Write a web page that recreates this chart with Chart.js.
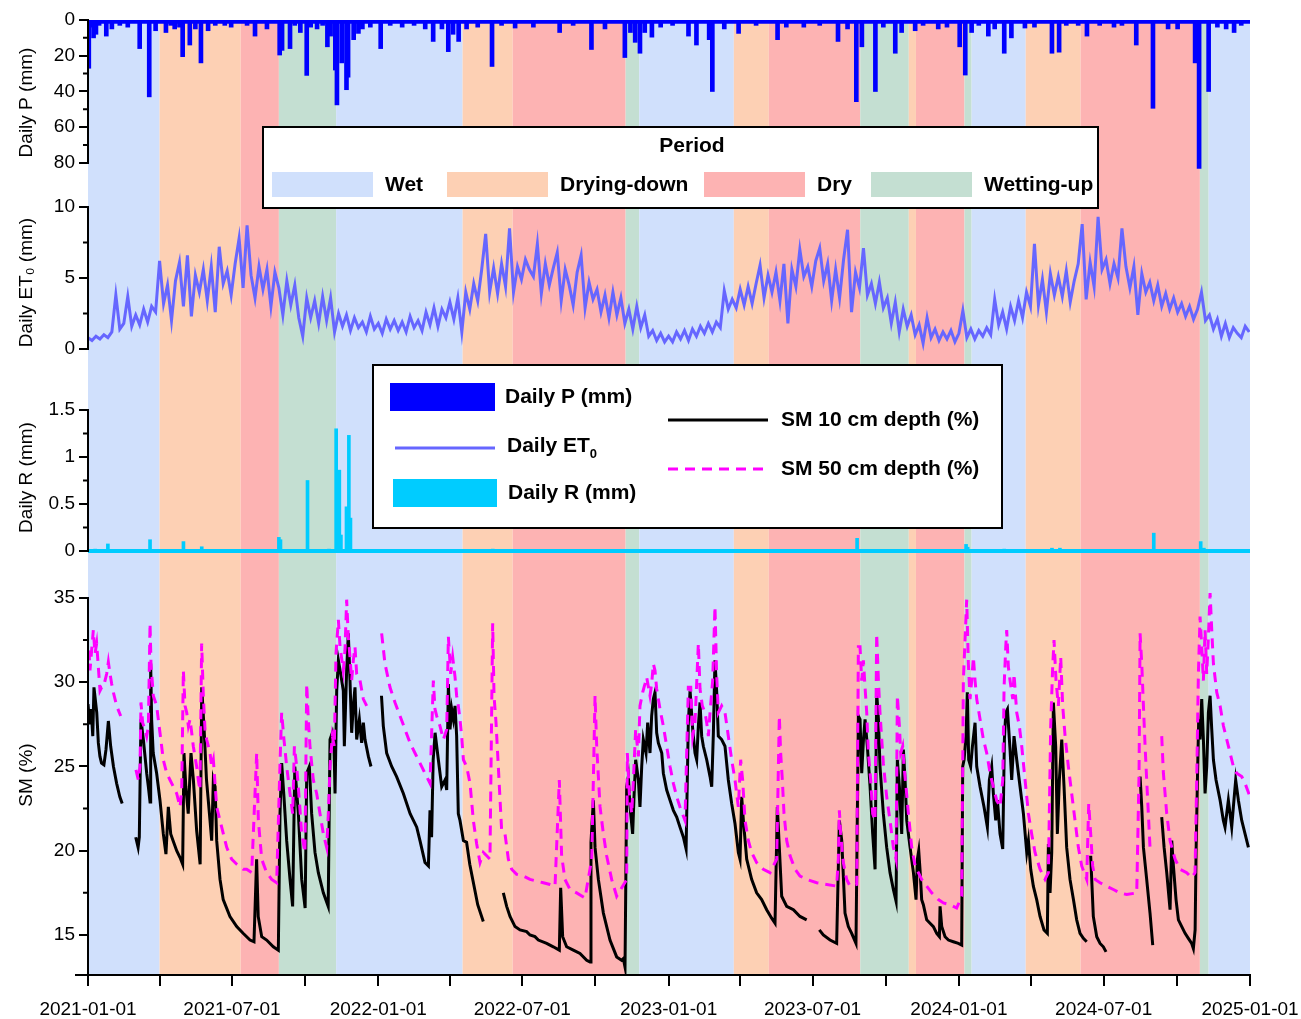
<!DOCTYPE html>
<html>
<head>
<meta charset="utf-8">
<script src="https://cdn.jsdelivr.net/npm/chart.js@4.4.1/dist/chart.umd.min.js"></script>
<style>
  html, body { margin: 0; padding: 0; background: #fff; }
  #wrap { width: 1301px; height: 1019px; }
</style>
</head>
<body>
<div id="wrap"><canvas id="chart"></canvas></div>
<script>
// all x values are days since 2021-01-01
const START = Date.UTC(2021, 0, 1);
const toDay = s => Math.round((Date.parse(s) - START) / 86400000);
const fromDay = d => new Date(START + d * 86400000).toISOString().slice(0, 10);
const END = '2025-01-01';

// x axis ticks (quarterly) and the ones that get a label
const xTickDates = ['2021-01-01','2021-04-01','2021-07-01','2021-10-01','2022-01-01','2022-04-01','2022-07-01','2022-10-01',
  '2023-01-01','2023-04-01','2023-07-01','2023-10-01','2024-01-01','2024-04-01','2024-07-01','2024-10-01','2025-01-01'];
const xLabelDates = ['2021-01-01','2021-07-01','2022-01-01','2022-07-01','2023-01-01','2023-07-01','2024-01-01','2024-07-01','2025-01-01'];

// y tick values per panel
const pTicks = [0, 20, 40, 60, 80];
const etTicks = [0, 5, 10];
const rTicks = [0, 0.5, 1, 1.5];
const smTicks = [15, 20, 25, 30, 35];

// period shading
const periodNames = ['Wet', 'Drying-down', 'Dry', 'Wetting-up'];
const periodColors = ['#d0e0fc', '#fdd0b4', '#fdb3b3', '#c4dfd2'];
const bandStart = ['2021-01-01','2021-04-01','2021-07-12','2021-08-29','2021-11-09','2022-04-17','2022-06-19','2022-11-08',
  '2022-11-25','2023-03-24','2023-05-07','2023-08-30','2023-10-30','2023-11-08','2024-01-08','2024-01-17',
  '2024-03-25','2024-06-02','2024-10-30','2024-11-10'];
const bandPeriod = [0,1,2,3,0,1,2,3,0,1,2,3,1,2,3,0,1,2,3,0];

// daily precipitation events (mm)
const pDays = [1,7,10,23,65,77,98,109,119,128,142,151,172,210,241,244,254,267,275,288,
  301,305,311,313,319,325,327,334,340,368,424,434,453,459,466,476,508,537,593,633,
  675,682,688,694,700,709,755,765,781,785,818,867,878,943,966,973,990,1015,1023,1040,
  1069,1096,1103,1111,1132,1152,1161,1178,1212,1221,1245,1256,1272,1318,1339,1358,1392,1397,1409,1431,1441,
  // smaller showers
  3,14,30,40,50,85,104,115,135,160,180,200,225,260,280,295,345,355,380,395,410,445,490,520,560,610,650,
  720,735,800,840,900,920,955,1000,1050,1080,1120,1140,1190,1230,1290,1300,1370,1420,1450];
const pVals = [27,10,8,9,16,43,7,5,20.5,14,24,6,3,9,19.6,17,16,7,31,5,
  15,9,28,47.5,24,39,32,11,7.5,16,5,12,17.7,8,12,5,26,4.5,7,16.5,
  21,7,12.5,18.6,7,9.6,9,14,11,40,7.5,11,4,12,45.7,15,40,18.6,7,6,
  5,15,30.8,7,9,18.6,10,4.5,18.6,18,3,9,3,14,49.4,5,24,83,40,5,7,
  4,3,5,3,4,6,3,4,5,3,4,3,5,3,4,3,5,4,3,4,3,5,4,3,4,3,5,
  4,3,5,3,4,3,5,4,3,4,3,5,4,3,4,3,5,4,3];
const pDrizzle = 1; // near-daily light rain along the top edge

// daily ET0 (mm), one reading every 5 days
const et0Step = 5;
const et0Vals = [
  0.8,0.6,0.9,0.7,1.0,0.8, 1.2,3.8,1.4,1.8,3.7,1.6, 2.4,1.7,2.8,1.9,3.0,2.6, 6.2,3.2,4.5,2.0,4.8,6.1,
  3.0,6.6,2.3,5.2,4.0,5.6, 3.4,5.8,2.6,7.2,4.6,5.5, 3.8,6.0,7.8,4.3,8.7,5.2, 3.6,5.8,4.2,5.6,3.0,5.4,
  4.3,2.4,4.8,3.1,4.5,2.2, 0.9,3.6,2.2,3.4,1.8,3.7, 2.0,3.6,1.2,2.5,1.6,2.4, 1.3,2.2,1.5,1.9,1.2,2.3,1.4,
  1.8,1.1,2.1,1.4,2.0,1.3, 1.9,1.2,2.3,1.5,2.0,1.3, 2.6,1.7,2.9,1.6,2.8,2.2, 3.3,2.1,3.6,1.2,4.0,2.8,
  4.6,3.4,5.6,8.1,4.0,5.7, 3.9,6.0,4.4,8.5,4.0,5.8, 4.9,6.3,5.6,5.1,7.4,3.9, 6.0,4.5,5.7,6.8,3.4,5.6,
  4.5,3.1,5.4,6.6,2.9,4.7, 3.5,4.2,2.6,3.8,2.2,4.0, 2.4,3.6,1.8,2.8,1.4,3.0, 1.5,2.4,0.9,1.3,0.6,1.1,0.5,
  0.9,0.5,1.2,0.7,1.3,0.6, 1.4,0.9,1.6,1.1,1.8,1.2, 1.9,1.5,4.1, 2.8,3.5,2.9,4.2,3.1,4.4,
  3.2,4.6,5.9,3.6,5.2,4.0, 5.4,3.4,6.0,1.8,5.6,4.4, 7.0,5.1,5.8,4.4,6.2,7.1, 4.8,6.0,3.4,5.6,3.6,6.3,
  8.4,2.6,5.4,4.3,7.1,3.8, 4.6,3.2,4.7,2.9,3.6,1.8, 3.3,1.2,2.8,1.6,2.4,1.0, 1.7,0.4,2.2,0.8,1.4,0.6, 1.2,0.7,1.3,0.5,1.1,
  2.7,0.8,1.4,0.7,1.3,0.9, 1.5,1.0,3.5,1.7,2.6,1.4, 3.0,2.0,3.4,2.2,4.0,3.0, 7.4,3.1,4.9,2.6,5.3,3.8,
  5.1,3.7,5.5,3.3,4.8,6.0, 8.8,3.5,6.1,4.4,9.3,5.6, 6.3,4.6,6.0,5.0,8.5,5.8, 4.3,5.8,2.4,5.3,4.0,4.7,
  3.4,4.5,3.0,3.9,2.8,3.6, 2.6,3.2,2.3,3.0,2.1,2.8, 4.0,2.0,2.4,1.4,2.1,0.9, 1.8,0.8,1.5,1.1,0.8,1.6,1.2
];

// daily runoff (mm)
const rDays = [9,25,78,120,143,240,242,276,303,312,316,318,325,328,330,509,967,1104,1106,1152,1212,1222,1340,1399,1403];
const rVals = [0.02,0.075,0.12,0.1,0.045,0.145,0.12,0.75,0.02,1.3,0.86,0.17,0.47,1.23,0.35,0.02,0.135,0.07,0.04,0.02,0.03,0.03,0.19,0.1,0.03];

// soil moisture [day, %], null = missing record
const sm10Pts = [
  [0,28.7],[2,27.5],[4,28.4],[6,26.8],[7.5,29.7],[11,28.2],[13,26.4],[15,25.6],[17,25.2],[20,25.1],[22.6,26.0],[25.6,27.7],[28.5,26.2],[32,25.0],[36,24.0],[40,23.2],[43,22.8],
  null,
  [60,20.8],[63,20.2],[64.5,20.8],[66.6,27.8],[69.6,26.6],[71.7,25.6],[73.8,24.6],[75.9,23.8],[78,22.9],[78.8,31.1],[80,27.8],[82,25.8],[86.3,24.6],[90.5,23.0],[94.7,21.0],[98,19.8],
  [101,22.6],[104,21.0],[107,20.6],[111.5,20.0],[115.7,19.6],[119,19.2],[120.7,25.8],[123,23.8],[126,22.2],[129.5,25.8],[132.5,24.2],[136.6,21.2],[141,19.2],[143,29.7],[146,27.2],
  [149,24.2],[153.4,21.8],[155.5,20.6],[157.6,24.2],[159.8,23.8],[161.8,20.6],[166,18.3],[170,17.1],[178.5,16.1],[187,15.5],[195,15.1],[203.7,14.7],[208.7,14.6],[212,19.5],[214,16.1],
  [218.4,14.9],[224.6,14.7],[233,14.3],[239.3,14.1],[241.4,22.2],[243.5,25.2],[246.4,23.2],[249.8,20.6],[254,18.3],[257.3,16.7],[260,25.0],[264.5,22.2],[268.7,18.3],[273,16.6],
  [275,24.6],[278.3,25.0],[281.2,22.2],[285.4,19.9],[289.6,18.7],[295.9,17.5],[302,16.7],[304.3,26.6],[307.2,27.0],[309.3,26.2],[310.6,23.4],[312.7,29.5],[314.8,31.3],[317.7,30.5],
  [321,29.5],[322.3,26.2],[325.2,30.7],[327.3,32.9],[329.4,30.1],[331.5,27.0],[333.6,28.6],[335.7,29.7],[337.8,26.6],[341.2,27.8],[344.1,26.4],[346.2,27.6],[348.3,26.6],[352.5,25.6],[355.8,25.0],
  null,
  [369,29.2],[371.3,27.4],[375.5,25.8],[381.8,25.0],[388,24.4],[396.5,23.4],[405,22.2],[413.3,21.4],[417.4,20.6],[423.7,19.3],[428,19.1],[430,22.4],[432,20.8],[434,25.4],[436.4,27.0],
  [440.5,25.4],[444.7,23.8],[448.9,24.2],[451,23.6],[453.1,29.9],[455.2,27.2],[457.3,28.4],[459.4,27.8],[461.5,28.6],[463.5,26.8],[465.6,22.2],[467.7,21.8],[472,20.6],[476,20.5],
  [480,19.2],[485,18.0],[490,16.8],[497,15.8],
  null,
  [522.2,17.5],[526.4,16.7],[530.6,16.1],[536.9,15.5],[543.2,15.3],[551.5,15.2],[555.7,15.0],[562,14.9],[566.2,14.7],[576.7,14.5],[585,14.3],[592.6,14.1],[594.3,17.8],[596.8,14.9],
  [601.8,14.3],[610.2,14.1],[618.6,13.9],[627,13.5],[631.2,13.4],[632.4,20.5],[635.4,23.0],[637.5,20.2],[641.7,18.3],[648,16.3],[656.3,14.7],[664.7,13.7],[671,13.5],[673.1,13.6],
  [675.2,13.1],[677.3,23.8],[679.4,24.4],[681.5,22.6],[684.8,21.0],[686.5,23.2],[688.6,25.4],[692,24.2],[694,22.6],[696.2,25.0],[698.2,26.6],[701.6,25.8],[703.7,27.6],[706.6,25.8],
  [708.7,28.0],[710.8,29.0],[712.9,29.4],[715,27.0],[717.1,26.4],[721.4,25.8],[723.4,24.6],[727.6,23.6],[731.8,23.0],[736,22.4],[740.2,22.0],[744.3,21.4],[748.6,20.8],[752,20.1],
  [754.8,27.6],[757,29.5],[760.3,27.2],[763.2,25.8],[765.3,25.4],[767.4,27.4],[769.5,28.8],[771.6,26.8],[773.7,26.2],[777.9,25.4],[782.1,24.4],[784.2,23.8],[786.3,27.0],[788.3,31.3],
  [790.4,29.5],[792.5,26.8],[796.7,26.6],[800.9,26.2],[805.1,24.2],[809.3,22.8],[813.5,21.6],[817.7,19.9],[819.8,19.5],[821.9,23.2],[824,21.8],[828.2,19.5],[834.4,18.3],[840.7,17.5],
  [847,17.1],[853.3,16.5],[859.6,16.0],[863.8,15.7],[866.7,22.6],[869.2,20.2],[872.2,17.3],[878.5,16.7],[886.9,16.5],[895.2,16.1],[903.6,15.9],
  null,
  [919.5,15.3],[924.5,15.0],[933,14.7],[941.3,14.5],[944.7,21.8],[947.7,20.6],[951.8,16.3],[956,15.5],[960.2,15.1],[965.6,14.5],[968.6,28.0],[970.7,27.8],[972.8,24.6],[975,26.6],
  [977,27.8],[979.9,26.2],[983.3,23.8],[986.6,21.0],[989.6,18.9],[991.6,29.4],[993.8,27.8],[995.8,25.0],[1000,22.2],[1004.2,20.2],[1008.4,18.7],[1012.6,17.7],[1016,17.0],[1017.6,25.4],
  [1020.2,23.8],[1023.1,21.0],[1025.2,26.0],[1027.3,24.2],[1029.4,21.8],[1033.6,20.2],[1037.8,18.7],[1041.1,17.1],[1042.8,19.5],[1044.5,20.0],[1046.1,18.9],[1048.2,17.1],[1050.3,16.8],
  [1054.5,15.9],[1058.7,15.7],[1062.9,15.5],[1067.1,15.1],[1070.5,14.9],[1071.3,16.7],[1073.4,15.5],[1077.6,14.9],[1081.8,14.7],[1088,14.6],[1094.3,14.5],[1098.5,14.4],[1099.8,25.0],
  [1101.5,25.4],[1104,26.8],[1105.6,29.4],[1107.3,25.4],[1109.8,25.0],[1112,26.2],[1115.3,27.6],[1117.4,25.0],[1121.6,23.8],[1126.6,22.6],[1130.8,21.4],[1133.3,24.2],[1136.2,25.0],
  [1138.3,23.4],[1141.3,21.8],[1143.4,23.0],[1146.7,21.0],[1150.1,20.1],[1152.2,26.6],[1153.9,28.2],[1156,28.4],[1159.3,26.0],[1161.4,24.2],[1164.3,26.8],[1167.7,25.4],[1171.9,23.8],
  [1176.1,22.2],[1180.3,19.9],[1182.4,20.6],[1185.3,18.9],[1188.6,17.9],[1192.8,17.1],[1197,16.1],[1202,15.3],[1206.2,15.1],[1207.5,20.4],[1209.6,17.5],[1211.7,19.9],[1213.8,28.8],
  [1216.7,26.2],[1218.8,21.0],[1221.3,24.2],[1224.3,26.6],[1227.2,23.8],[1230.5,20.2],[1234.7,18.3],[1239,17.1],[1243.1,15.9],[1247.3,15.1],[1251.5,14.8],[1255.7,14.6],
  null,
  [1260.7,19.7],[1264,16.1],[1268.3,14.9],[1272.5,14.5],[1276.6,14.3],[1280,14.0],
  null,
  [1322.8,24.4],[1324.9,22.6],[1327,20.2],[1331.1,18.3],[1335.3,16.3],[1338.7,14.4],
  null,
  [1350,22.0],[1353,20.2],[1356.3,18.7],[1360.5,16.5],[1362.6,20.6],[1364.7,19.1],[1368,17.1],[1371,15.9],[1375.2,15.5],[1379.4,15.1],[1383.5,14.8],[1387.7,14.5],[1389.8,14.2],
  [1392,15.3],[1393.2,19.9],[1394.9,24.2],[1396.5,27.8],[1398.2,26.6],[1400.3,29.0],[1402.4,26.6],[1404.5,23.4],[1406.6,25.0],[1408.7,28.2],[1410.8,29.2],[1412.9,27.2],[1415,25.4],
  [1418.3,24.2],[1423.4,23.0],[1427.5,21.8],[1429.6,21.4],[1431.7,22.2],[1433.8,23.0],[1435.9,22.2],[1438,21.4],[1440.1,22.6],[1443,24.2],[1446.4,23.0],[1450.6,21.8],[1454.8,21.0],[1459,20.2]
];
const sm50Pts = [
  [0,31.3],[1,32.1],[2.5,30.7],[4.6,31.9],[6.7,33.1],[8.8,31.7],[10.9,32.3],[13,30.9],[15.1,29.5],[17.2,29.7],[19.3,29.7],[21.4,30.1],[23.5,30.5],[25.6,31.2],[27.7,30.5],[29.8,29.9],
  [31.9,29.4],[36,28.6],[41.1,28.0],
  null,
  [60.3,24.8],[63.3,24.2],[65.4,25.0],[66.6,28.8],[68.7,27.6],[71.7,27.2],[73.8,26.8],[75.9,27.4],[78,33.5],[79.2,31.1],[82.1,29.2],[86.3,28.6],[90.5,27.0],[94.7,25.4],[98.9,24.6],
  [103.1,24.2],[107.3,23.8],[111.5,23.4],[115.7,22.6],[117.8,23.6],[119.9,30.7],[122,28.6],[124.1,28.2],[126.2,27.4],[128.3,27.8],[130.4,27.0],[132.4,26.2],[136.6,25.0],[138.7,24.2],
  [140.8,23.6],[142.9,32.3],[145,29.2],[147.1,27.2],[149.2,26.6],[153.4,25.8],[155.5,25.0],[157.6,25.4],[161.8,22.6],[166,21.8],[170.2,21.0],[174.4,20.2],[180.6,19.5],[187,19.2],
  [195.3,18.9],[199.5,18.9],[205.8,18.7],[212.1,25.8],[214.2,21.8],[218.4,19.5],[224.6,18.7],[231,18.3],[237.2,18.1],[241.4,25.2],[243.5,28.2],[246.4,26.6],[249.8,25.0],[254,23.4],
  [257.3,22.2],[259.5,26.2],[262.4,25.0],[265.7,23.0],[268.7,21.0],[272.8,19.9],[275,29.9],[277,27.8],[279.1,26.2],[283.3,24.2],[287.5,23.4],[291.7,22.2],[295.9,21.0],[300.1,20.2],
  [302.2,22.2],[304.3,25.0],[307.2,26.8],[309.7,26.2],[311.8,31.7],[314.8,33.7],[316.9,32.1],[321,30.7],[323.1,31.9],[325.2,34.9],[327.3,32.7],[329.4,31.5],[331.5,30.1],[333.6,31.3],
  [335.7,32.1],[337.8,30.5],[342,30.1],[346.2,29.0],[350.4,28.6],
  null,
  [369.2,32.9],[373.4,31.1],[379.7,29.7],[386,28.8],[392.3,28.0],[398.6,27.2],[404.9,26.4],[411.1,25.8],[417.4,25.2],[423.7,24.6],[430,24.0],[434.2,30.1],[436.3,28.4],[438.4,28.0],
  [442.6,27.4],[446.8,26.6],[451,27.2],[453.1,32.7],[456,30.5],[458.5,31.5],[461.5,30.3],[463.5,29.2],[465.6,28.6],[467.7,27.8],[469.8,26.8],[472,25.4],[476.1,25.0],[480.3,24.0],
  [484.5,21.8],[488.7,20.4],[492.9,19.3],[497.1,19.9],[501.3,19.7],[505.4,19.5],[508.8,33.5],[510.5,29.2],[513,27.6],[515.9,25.0],[520.1,21.2],[524.3,21.0],[528.5,19.5],[532.7,18.9],
  [539,18.6],[547.4,18.5],[555.7,18.3],[564.1,18.2],[572.5,18.1],[580.9,18.0],[587.2,17.9],[592.6,24.2],[595.5,19.7],[599.7,18.3],[606,17.7],[614.4,17.5],[624.9,17.2],[633.3,19.5],
  [635.4,24.2],[637.5,29.2],[639.6,26.2],[643.8,22.6],[648,21.0],[652.1,19.7],[658.4,18.3],[664.7,17.3],[677.3,18.3],[678.1,25.8],[680.6,23.4],[683.6,22.2],[685.7,24.2],[688.6,27.2],
  [692,25.6],[694,28.6],[697.4,29.4],[700.3,29.9],[702.4,30.3],[706.6,29.2],[708.7,29.9],[710.8,31.1],[712.9,30.7],[715,29.6],[719.2,28.4],[723.4,27.4],[727.6,26.2],[731.8,25.0],
  [736,24.0],[740.2,23.2],[744.3,22.6],[750.6,21.8],[754.8,29.7],[757.8,29.7],[760.3,26.8],[763.2,27.6],[767.4,32.3],[769.5,29.6],[772.4,28.6],[775.8,28.2],[777.9,27.6],[780,26.8],
  [782.1,28.2],[785.4,30.1],[788.3,34.5],[790.4,30.5],[792.5,28.2],[796.7,28.6],[800.9,28.2],[805.1,26.8],[809.3,25.4],[813.5,24.2],[817.7,22.6],[820.6,25.4],[823.1,24.2],[826.1,21.8],
  [830.3,20.6],[834.4,19.9],[840.7,19.3],[849.1,18.9],[857.5,18.7],[865.9,19.5],[869.2,28.0],[870.9,25.8],[873,24.2],[875.1,22.2],[878.5,20.6],[882.7,19.7],[889,18.9],[895.2,18.5],
  [903.6,18.3],[916.2,18.1],[928.8,18.0],[941.3,17.9],[943.4,19.5],[944.7,22.4],[946.3,21.0],[949.7,19.3],[953.9,18.3],[958.1,17.9],[966.5,18.0],[968.6,32.1],[970.7,32.1],[972.8,30.1],
  [974.9,31.3],[977,29.7],[979.1,28.2],[981.2,25.8],[984.1,24.2],[986.6,22.2],[989.6,21.8],[991.6,32.9],[993.8,30.1],[995.8,28.2],[998,26.6],[1000,25.2],[1004.2,23.2],[1008.4,21.8],
  [1012.6,20.2],[1016,19.5],[1017.6,29.2],[1020.2,27.4],[1021.8,25.8],[1024.3,26.2],[1026,25.0],[1028.5,23.8],[1031.5,22.2],[1035.7,20.2],[1039.9,19.1],[1044.1,18.7],[1048.2,18.3],
  [1054.5,17.9],[1060.8,17.5],[1069.2,17.1],[1075.5,16.9],[1083.9,16.8],[1092.2,16.6],[1098.5,17.3],[1100.6,30.1],[1102.7,32.5],[1104.8,34.9],[1106.9,31.1],[1109,29.0],[1111.1,30.1],
  [1113.2,31.5],[1115.3,30.1],[1117.4,29.0],[1121.6,27.8],[1125.8,26.6],[1130,25.8],[1134.2,24.6],[1138.3,23.8],[1142.5,23.0],[1146.7,22.6],[1150.1,24.2],[1151.8,29.7],[1153.9,32.1],
  [1155.1,33.1],[1157.2,30.9],[1159.3,30.1],[1162.7,29.0],[1164.3,30.5],[1167.7,28.2],[1171,27.4],[1174,26.2],[1178.2,24.2],[1182.4,22.2],[1186.5,21.0],[1190.7,19.9],[1197,18.9],
  [1203.3,18.3],[1207.5,18.7],[1210.4,27.4],[1212.9,30.9],[1214.6,32.5],[1217.1,30.1],[1220.1,28.6],[1223,31.5],[1225.5,28.6],[1228.5,26.8],[1232.6,25.0],[1236.8,23.4],[1241,21.8],
  [1245.2,20.2],[1249.4,19.1],[1255.7,18.3],[1258.2,22.8],[1260.7,21.0],[1263.2,19.1],[1266.2,18.3],[1272.5,18.1],[1280.8,17.9],[1289.2,17.7],[1297.6,17.5],[1306,17.4],[1318.6,17.5],
  [1321.5,24.6],[1322.8,32.9],[1324.9,31.1],[1327,28.6],[1329.1,26.2],[1331.1,24.2],[1333.2,22.2],[1335.3,20.2],
  null,
  [1350,26.8],[1352.1,24.6],[1356.3,22.2],[1360.5,20.6],[1366.8,19.5],[1373.1,18.9],[1381.4,18.7],[1387.7,18.4],[1391.9,18.7],[1394,24.2],[1396.1,30.5],[1398.2,33.9],[1400.3,32.1],
  [1402.4,30.1],[1404.5,33.1],[1406.6,30.5],[1408.7,32.7],[1410.8,35.3],[1412.9,33.1],[1415,31.1],[1419.2,29.4],[1423.4,28.6],[1427.6,27.4],[1431.8,26.6],[1436,25.8],[1440.1,25.0],
  [1444.3,24.6],[1450.6,24.4],[1454.8,24.0],[1461,23.2]
];

const FONT = '"Liberation Sans", Arial, Helvetica, sans-serif';
Chart.defaults.font.family = FONT;
Chart.defaults.color = '#000';

const toXY = pts => {
  const out = [];
  pts.forEach((p, i) => {
    if (p) out.push({ x: p[0], y: p[1] });
    else out.push({ x: pts[i - 1][0] + 0.1, y: null });
  });
  return out;
};

// background bands
const bandPlugin = {
  id: 'bands',
  beforeDraw(chart) {
    const { ctx, chartArea: a, scales: { x } } = chart;
    ctx.save();
    bandStart.forEach((s, i) => {
      const x0 = x.getPixelForValue(toDay(s));
      const x1 = x.getPixelForValue(toDay(bandStart[i + 1] || END));
      ctx.fillStyle = periodColors[bandPeriod[i]];
      ctx.fillRect(x0, a.top, x1 - x0, a.bottom - a.top);
    });
    ctx.restore();
  }
};

// left axis line segments + minor ticks, then the two legend boxes
const axisPlugin = {
  id: 'axisSegments',
  afterDraw(chart) {
    const { ctx, chartArea: a, scales } = chart;
    const segs = [
      ['yP', 0, 80, [10, 30, 50, 70]],
      ['yET', 0, 10, [2.5, 7.5]],
      ['yR', 0, 1.5, [0.25, 0.75, 1.25]],
      ['ySM', null, 35, [17.5, 22.5, 27.5, 32.5]]
    ];
    ctx.save();
    ctx.strokeStyle = '#000';
    ctx.lineWidth = 2;
    segs.forEach(([id, lo, hi, minors]) => {
      const s = scales[id];
      const y0 = s.getPixelForValue(hi);
      const y1 = lo === null ? a.bottom : s.getPixelForValue(lo);
      ctx.beginPath();
      ctx.moveTo(a.left, Math.min(y0, y1) - 1);
      ctx.lineTo(a.left, Math.max(y0, y1) + 1);
      minors.forEach(v => {
        const y = s.getPixelForValue(v);
        ctx.moveTo(a.left - 5, y);
        ctx.lineTo(a.left, y);
      });
      ctx.stroke();
    });
    ctx.beginPath();
    ctx.moveTo(a.left - 13, a.bottom);
    ctx.lineTo(a.left, a.bottom);
    ctx.stroke();

    // legend 1: periods
    ctx.fillStyle = '#fff';
    ctx.fillRect(263, 127, 835, 81);
    ctx.strokeRect(263, 127, 835, 81);
    ctx.font = 'bold 21px ' + FONT;
    ctx.textBaseline = 'middle';
    ctx.textAlign = 'center';
    ctx.fillStyle = '#000';
    ctx.fillText('Period', 692, 146);
    ctx.textAlign = 'left';
    const sw = [272, 447, 704, 871];
    periodNames.forEach((n, i) => {
      ctx.fillStyle = periodColors[i];
      ctx.fillRect(sw[i], 172, 101, 25);
      ctx.fillStyle = '#000';
      ctx.fillText(n, sw[i] + 113, 185);
    });

    // legend 2: series
    ctx.fillStyle = '#fff';
    ctx.fillRect(373, 365, 629, 163);
    ctx.strokeRect(373, 365, 629, 163);
    ctx.fillStyle = '#0000ff';
    ctx.fillRect(390, 383, 105, 28);
    ctx.fillStyle = '#00ccff';
    ctx.fillRect(393, 479, 104, 28);
    ctx.lineWidth = 3;
    ctx.strokeStyle = '#6666ff';
    ctx.beginPath(); ctx.moveTo(395, 448); ctx.lineTo(495, 448); ctx.stroke();
    ctx.strokeStyle = '#000';
    ctx.beginPath(); ctx.moveTo(668, 420); ctx.lineTo(768, 420); ctx.stroke();
    ctx.strokeStyle = '#ff00ff';
    ctx.setLineDash([10, 7]);
    ctx.beginPath(); ctx.moveTo(668, 469); ctx.lineTo(768, 469); ctx.stroke();
    ctx.setLineDash([]);
    ctx.fillStyle = '#000';
    ctx.fillText('Daily P (mm)', 505, 397);
    ctx.fillText('Daily ET', 507, 446);
    const w = ctx.measureText('Daily ET').width;
    ctx.font = 'bold 13px ' + FONT;
    ctx.fillText('0', 507 + w, 454);
    ctx.font = 'bold 21px ' + FONT;
    ctx.fillText('Daily R (mm)', 508, 493);
    ctx.fillText('SM 10 cm depth (%)', 781, 420);
    ctx.fillText('SM 50 cm depth (%)', 781, 469);
    ctx.restore();
  }
};

// one stacked panel axis on the left
const panelAxis = (ticks, title, min, max, weight, reverse) => ({
  type: 'linear', position: 'left', stack: 'panels', stackWeight: weight,
  min, max, reverse: !!reverse,
  afterBuildTicks: s => { s.ticks = ticks.map(v => ({ value: v })); },
  afterFit: s => { s.width = 80; },
  border: { display: false },
  grid: { drawOnChartArea: false, offset: false, color: '#000', lineWidth: 2, tickLength: 9 },
  ticks: { color: '#000', font: { size: 19 }, padding: 4, autoSkip: false, callback: v => String(v) },
  title: { display: true, text: title, color: '#000', font: { size: 19 }, padding: { top: 7, bottom: 0 } }
});

new Chart(document.getElementById('chart'), {
  type: 'line',
  data: {
    datasets: [
      { label: 'SM 50 cm depth (%)', yAxisID: 'ySM', data: toXY(sm50Pts), borderColor: '#ff00ff', borderWidth: 3,
        borderDash: [10, 7], pointRadius: 0, spanGaps: false, order: 1 },
      { label: 'SM 10 cm depth (%)', yAxisID: 'ySM', data: toXY(sm10Pts), borderColor: '#000', borderWidth: 3,
        pointRadius: 0, spanGaps: false, order: 2 },
      { label: 'Daily ET0', yAxisID: 'yET', data: et0Vals.map((v, i) => ({ x: i * et0Step, y: v })),
        borderColor: '#6666ff', borderWidth: 3, pointRadius: 0, order: 3 },
      { type: 'bar', label: 'Daily P (mm)', yAxisID: 'yP', data: pDays.map((d, i) => ({ x: d, y: pVals[i] })),
        backgroundColor: '#0000ff', barThickness: 4, grouped: false, order: 4 },
      { label: 'P drizzle', yAxisID: 'yP', data: [{ x: 0, y: pDrizzle }, { x: toDay(END), y: pDrizzle }],
        borderColor: '#0000ff', borderWidth: 4, pointRadius: 0, order: 5 },
      { type: 'bar', label: 'Daily R (mm)', yAxisID: 'yR', data: rDays.map((d, i) => ({ x: d, y: rVals[i] })),
        backgroundColor: '#00ccff', barThickness: 3, grouped: false, order: 4 },
      { label: 'R zero', yAxisID: 'yR', data: [{ x: 0, y: 0 }, { x: toDay(END), y: 0 }],
        borderColor: '#00ccff', borderWidth: 4, pointRadius: 0, order: 5 }
    ]
  },
  options: {
    responsive: true,
    maintainAspectRatio: false,
    animation: false,
    layout: { padding: { left: 8, right: 51, top: 20, bottom: 0 } },
    plugins: { legend: { display: false }, tooltip: { enabled: false } },
    scales: {
      x: {
        type: 'linear', min: 0, max: toDay(END), offset: false,
        afterBuildTicks: s => { s.ticks = xTickDates.map(d => ({ value: toDay(d) })); },
        afterFit: s => { s.height = 44; s.paddingLeft = 0; s.paddingRight = 0; },
        border: { display: true, color: '#000', width: 2 },
        grid: { drawOnChartArea: false, offset: false, color: '#000', lineWidth: 2, tickLength: 11 },
        ticks: {
          color: '#000', font: { size: 19 }, padding: 12, maxRotation: 0, autoSkip: false,
          callback: v => { const d = fromDay(v); return xLabelDates.includes(d) ? d : ''; }
        }
      },
      ySM: panelAxis(smTicks, 'SM (%)', 12.626, 36.365, 400),
      yR: panelAxis(rTicks, 'Daily R (mm)', -0.2553, 1.819, 195),
      yET: panelAxis(etTicks, 'Daily ET\u2080 (mm)', -2.183, 11.549, 195),
      yP: panelAxis(pTicks, 'Daily P (mm)', 0, 92.31, 165, true)
    }
  },
  plugins: [bandPlugin, axisPlugin]
});
</script>
</body>
</html>
